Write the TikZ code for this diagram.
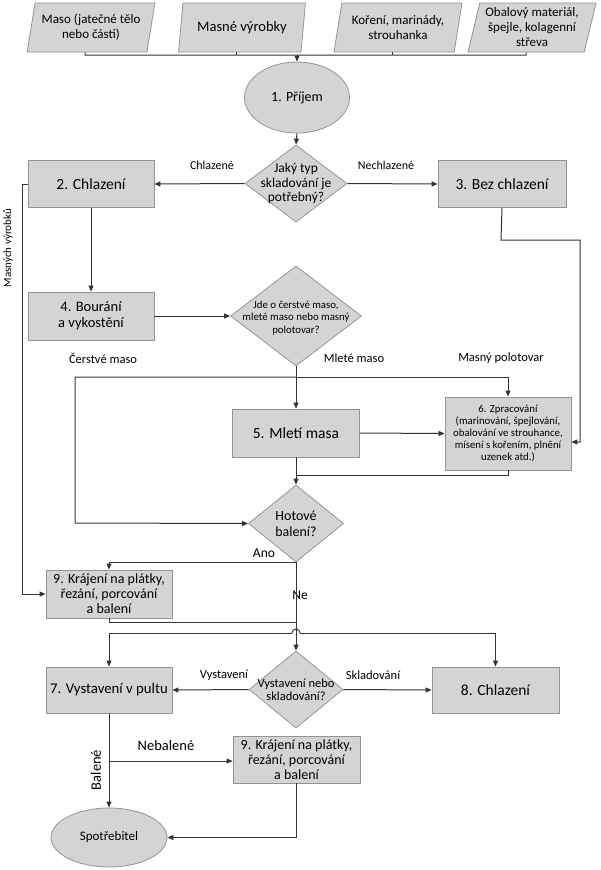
\documentclass[tikz,border=0pt]{standalone}
\usepackage{fontspec}
\setmainfont{Carlito}
\usetikzlibrary{arrows.meta,shapes.geometric,calc}
\newcommand{\fsz}[2]{\fontsize{#1}{#2}\selectfont}
\begin{document}
\begin{tikzpicture}[x=1pt,y=-1pt,
  line/.style={draw=black!80, line width=1pt},
  arr/.style={line, -{Triangle[length=6pt,width=5pt]}},
  shp/.style={draw=black!42, fill=black!17, line width=0.8pt},
  box/.style={shp, rectangle, align=center, inner sep=1pt},
  inbox/.style={shp, trapezium, trapezium left angle=75, trapezium right angle=105,
     trapezium stretches=true, minimum width=128pt, minimum height=49pt,
     inner sep=0pt, align=center, font=\fsz{13}{15}},
  dia/.style={shp, diamond, inner sep=0pt},
  ell/.style={shp, ellipse, inner sep=0pt},
  lbl/.style={inner sep=0pt, font=\fsz{12.5}{14}}
]
\useasboundingbox (0,0) rectangle (600,870);

% inputs
\node[inbox] (in1) at (91,27.5) {Maso (jatečné tělo\\nebo části)};
\node[inbox, font=\fsz{14.5}{16}] (in2) at (242,27.5) {Masné výrobky};
\node[inbox] (in3) at (398,27.5) {Koření, marinády,\\strouhanka};
\node[inbox] (in4) at (532,27.5) {Obalový materiál,\\špejle, kolagenní\\střeva};

% main nodes
\node[ell, minimum width=105pt, minimum height=71pt, font=\fsz{14}{16}] (e1) at (297,97.5) {1. Příjem};
\node[dia, minimum width=102pt, minimum height=77pt] (d1) at (296,183.5) {};
\node[align=center, font=\fsz{13.5}{14.5}] (d1t) at (d1.center) {Jaký typ\\skladování je\\potřebný?};
\node[box, minimum width=126pt, minimum height=47pt, font=\fsz{15.5}{17}] (b2) at (91,184) {2. Chlazení};
\node[box, minimum width=128pt, minimum height=47pt, font=\fsz{15.5}{17}] (b3) at (502,184) {3. Bez chlazení};
\node[box, minimum width=126pt, minimum height=48pt, font=\fsz{14.5}{16}] (b4) at (91,316) {4. Bourání\\a vykostění};
\node[dia, minimum width=131pt, minimum height=100pt] (d2) at (296,316) {};
\node[align=center, font=\fsz{10.8}{12.5}] (d2t) at (296,318) {Jde o čerstvé maso,\\mleté maso nebo masný\\polotovar?};
\node[box, minimum width=127pt, minimum height=48pt, font=\fsz{15.5}{17}] (b5) at (296,433) {5. Mletí masa};
\node[box, minimum width=126pt, minimum height=73pt, font=\fsz{10.8}{12.2}] (b6) at (508,433.5) {6. Zpracování\\(marinování, špejlování,\\obalování ve strouhance,\\mísení s kořením, plnění\\uzenek atd.)};
\node[dia, minimum width=95pt, minimum height=77pt] (d3) at (296,523.5) {};
\node[align=center, font=\fsz{14}{16}] (d3t) at (d3.center) {Hotové\\balení?};
\node[box, minimum width=126pt, minimum height=48pt, font=\fsz{14}{15}] (b9a) at (109,594) {9. Krájení na plátky,\\řezání, porcování\\a balení};
\node[dia, minimum width=94pt, minimum height=77pt] (d4) at (296,689.5) {};
\node[align=center, font=\fsz{12.5}{13.5}] (d4t) at (d4.center) {Vystavení nebo\\skladování?};
\node[box, minimum width=126pt, minimum height=46pt, font=\fsz{14.8}{17}] (b7) at (109,690) {7. Vystavení v pultu};
\node[box, minimum width=127pt, minimum height=46pt, font=\fsz{15.5}{17}] (b8) at (495.5,690) {8. Chlazení};
\node[box, minimum width=127pt, minimum height=47pt, font=\fsz{14}{15}] (b9b) at (296.5,759.5) {9. Krájení na plátky,\\řezání, porcování\\a balení};
\node[ell, minimum width=116pt, minimum height=59pt, font=\fsz{13}{15}] (e2) at (109,837.5) {Spotřebitel};

% labels
\node[lbl, font=\fsz{12}{14}] (l1) at (212,165) {Chlazené};
\node[lbl, font=\fsz{12}{14}] (l2) at (386,165) {Nechlazené};
\node[lbl] (l3) at (103,358) {Čerstvé maso};
\node[lbl] (l4) at (354,358) {Mleté maso};
\node[lbl] (l5) at (501,358) {Masný polotovar};
\node[lbl, font=\fsz{13.5}{15}] (l6) at (264,553) {Ano};
\node[lbl, font=\fsz{13.5}{15}] (l7) at (300,595) {Ne};
\node[lbl] (l8) at (224,675) {Vystavení};
\node[lbl] (l9) at (373,675) {Skladování};
\node[lbl, font=\fsz{14.5}{16}] (l10) at (166,746) {Nebalené};
\node[lbl, font=\fsz{14.5}{16}, rotate=90] (l11) at (96,770) {Balené};
\node[lbl, font=\fsz{11}{12}, rotate=90] (l12) at (8,248) {Masných výrobků};

% coordinates
\coordinate (busL) at (85,55);
\coordinate (busR) at (526,55);
\coordinate (bus) at (297,55);
\coordinate (lft) at (22,184);
\coordinate (c3) at (501,240);
\coordinate (c6r) at (580,442);
\coordinate (j2) at (296,377);
\coordinate (lft2) at (75,523);
\coordinate (j5) at (296,475);
\coordinate (j9) at (296,622);
\coordinate (h7) at (109,633);
\coordinate (h8) at (495.5,633);
\coordinate (hopL) at (292,633);
\coordinate (hopR) at (300,633);
\coordinate (j7) at (109,761);

% connectors
\draw[line] ([xshift=-6pt]in1.south) -- (busL) -- (busR) -- ([xshift=-6pt]in4.south);
\draw[line] ([xshift=-6pt]in2.south) -- ([xshift=-6pt]in2.south |- bus);
\draw[line] ([xshift=-6pt]in3.south) -- ([xshift=-6pt]in3.south |- bus);
\draw[arr] (bus) -- (e1.north);
\draw[arr] (e1.south) -- (d1.north);
\draw[arr] (d1.west) -- (b2.east);
\draw[arr] (d1.east) -- (b3.west);
\draw[arr] (b3.south) -- (c3) -| (c6r) -- (b6.east |- c6r);
\draw[arr] (b2.west) -- (lft) |- (b9a.west);
\draw[arr] (b2.south) -- (b4.north);
\draw[arr] (b4.east) -- (d2.west);
\draw[arr] (d2.south) -- (b5.north);
\draw[arr] (j2) -| (b6.north);
\draw[arr] (j2) -| (lft2) -- (d3.west);
\draw[arr] (b5.east) -- (b6.west);
\draw[arr] (b5.south) -- (d3.north);
\draw[line] (b6.south) |- (j5);
\draw[arr] (d3.south) -| (b9a.north);
\draw[arr] (d3.south) -- (d4.north);
\draw[line] (b9a.south) |- (j9);
\draw[arr] (hopL) -- (h7) -- (b7.north);
\draw[arr] (hopR) -- (h8) -- (b8.north);
\draw[line] (hopL) arc[start angle=180, end angle=0, radius=4pt];
\draw[arr] (d4.west) -- (b7.east);
\draw[arr] (d4.east) -- (b8.west);
\draw[arr] (b7.south) -- (e2.north);
\draw[arr] (j7) -- (b9b.west |- j7);
\draw[arr] (b9b.south) |- (e2.east);
\end{tikzpicture}
\end{document}
